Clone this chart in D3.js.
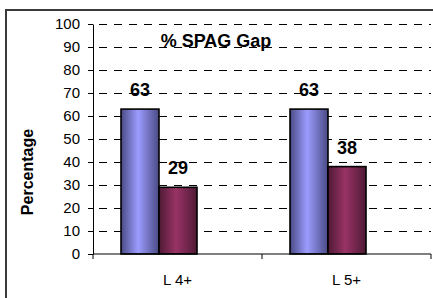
<!DOCTYPE html>
<meta charset="utf-8">
<style>
  body { margin: 0; background: #fff; }
  svg { display: block; font-family: "Liberation Sans", Arial, sans-serif; }
  .axis path, .axis line { stroke: #000; }
  .axis text { font-size: 15px; fill: #000; }
  .grid line { stroke: #000; stroke-dasharray: 8,7; }
  .bar { stroke: #000; stroke-width: 1.6; }
  .val { font-size: 18px; font-weight: bold; text-anchor: middle; }
</style>
<body>
<script src="https://d3js.org/d3.v7.min.js"></script>
<script>

  // data
  var categories = ["L 4+", "L 5+"];
  var seriesKeys = ["s1", "s2"];
  var series1 = [63, 63];
  var series2 = [29, 38];
  var yTicks = [0, 10, 20, 30, 40, 50, 60, 70, 80, 90, 100];
  var title = "% SPAG Gap";
  var yLabel = "Percentage";

  var width = 433, height = 298;
  var plot = { left: 93, right: 431, top: 24, bottom: 254 };

  var svg = d3.select("body").append("svg")
    .attr("width", width)
    .attr("height", height);

  // outer frame (cropped on right and bottom)
  svg.append("rect")
    .attr("x", 6).attr("y", 10)
    .attr("width", 500).attr("height", 400)
    .attr("fill", "none")
    .attr("stroke", "#3a3a3a")
    .attr("stroke-width", 2);

  var yScale = d3.scaleLinear().domain([0, 100]).range([plot.bottom, plot.top]);
  var xScale = d3.scaleBand().domain(categories).range([plot.left, plot.right]);
  var x1 = d3.scaleBand().domain(seriesKeys).range([28, 104]);

  // gradients for the bars
  var defs = svg.append("defs");
  function grad(id, dark, light) {
    var g = defs.append("linearGradient").attr("id", id)
      .attr("x1", "0%").attr("x2", "100%").attr("y1", "0%").attr("y2", "0%");
    g.append("stop").attr("offset", "0%").attr("stop-color", dark);
    g.append("stop").attr("offset", "45%").attr("stop-color", light);
    g.append("stop").attr("offset", "100%").attr("stop-color", dark);
  }
  grad("gBlue", "#4a4a85", "#9c9cff");
  grad("gRed", "#4f1a35", "#993366");

  // dashed gridlines
  svg.append("g")
    .attr("class", "grid")
    .selectAll("line")
    .data(yTicks.filter(function (d) { return d > 0; }))
    .enter().append("line")
    .attr("x1", plot.left + 6).attr("x2", plot.right)
    .attr("y1", function (d) { return Math.round(yScale(d)) + 0.5; })
    .attr("y2", function (d) { return Math.round(yScale(d)) + 0.5; });

  // title sits on the 90 gridline
  svg.append("text")
    .attr("x", 216).attr("y", 47)
    .attr("text-anchor", "middle")
    .attr("font-size", 18).attr("font-weight", "bold")
    .text(title);

  // bars
  var rows = categories.map(function (c, i) {
    return [{ cat: c, key: "s1", v: series1[i] }, { cat: c, key: "s2", v: series2[i] }];
  });
  var groups = svg.selectAll(".grp")
    .data(rows)
    .enter().append("g")
    .attr("class", "grp")
    .attr("transform", function (d) { return "translate(" + xScale(d[0].cat) + ",0)"; });

  groups.selectAll("rect")
    .data(function (d) { return d; })
    .enter().append("rect")
    .attr("class", "bar")
    .attr("x", function (d) { return x1(d.key); })
    .attr("width", x1.bandwidth())
    .attr("y", function (d) { return yScale(d.v); })
    .attr("height", function (d) { return yScale(0) - yScale(d.v); })
    .attr("fill", function (d) { return d.key === "s1" ? "url(#gBlue)" : "url(#gRed)"; });

  groups.selectAll(".val")
    .data(function (d) { return d; })
    .enter().append("text")
    .attr("class", "val")
    .attr("x", function (d) { return x1(d.key) + x1.bandwidth() / 2; })
    .attr("y", function (d) { return yScale(d.v) - 13; })
    .text(function (d) { return d.v; });

  // y axis
  var yAxis = d3.axisLeft(yScale).tickValues(yTicks).tickSize(5).tickSizeOuter(0).tickPadding(8);
  svg.append("g")
    .attr("class", "axis")
    .attr("transform", "translate(" + plot.left + ",0)")
    .call(yAxis);

  // x axis: ticks on category boundaries, labels at band centres
  var bounds = [plot.left].concat(categories.map(function (c) { return xScale(c) + xScale.bandwidth(); }));
  var xg = svg.append("g").attr("class", "axis");
  xg.append("line")
    .attr("x1", plot.left).attr("x2", plot.right)
    .attr("y1", yScale(0)).attr("y2", yScale(0));
  xg.selectAll(".xt")
    .data(bounds)
    .enter().append("line")
    .attr("x1", function (d) { return d; }).attr("x2", function (d) { return d; })
    .attr("y1", yScale(0)).attr("y2", yScale(0) + 5);
  xg.selectAll(".xl")
    .data(categories)
    .enter().append("text")
    .attr("x", function (d) { return xScale(d) + xScale.bandwidth() / 2; })
    .attr("y", 285)
    .attr("text-anchor", "middle")
    .text(function (d) { return d; });

  // y axis title
  svg.append("text")
    .attr("transform", "translate(33,172) rotate(-90)")
    .attr("text-anchor", "middle")
    .attr("font-size", 16).attr("font-weight", "bold")
    .text(yLabel);

</script>
